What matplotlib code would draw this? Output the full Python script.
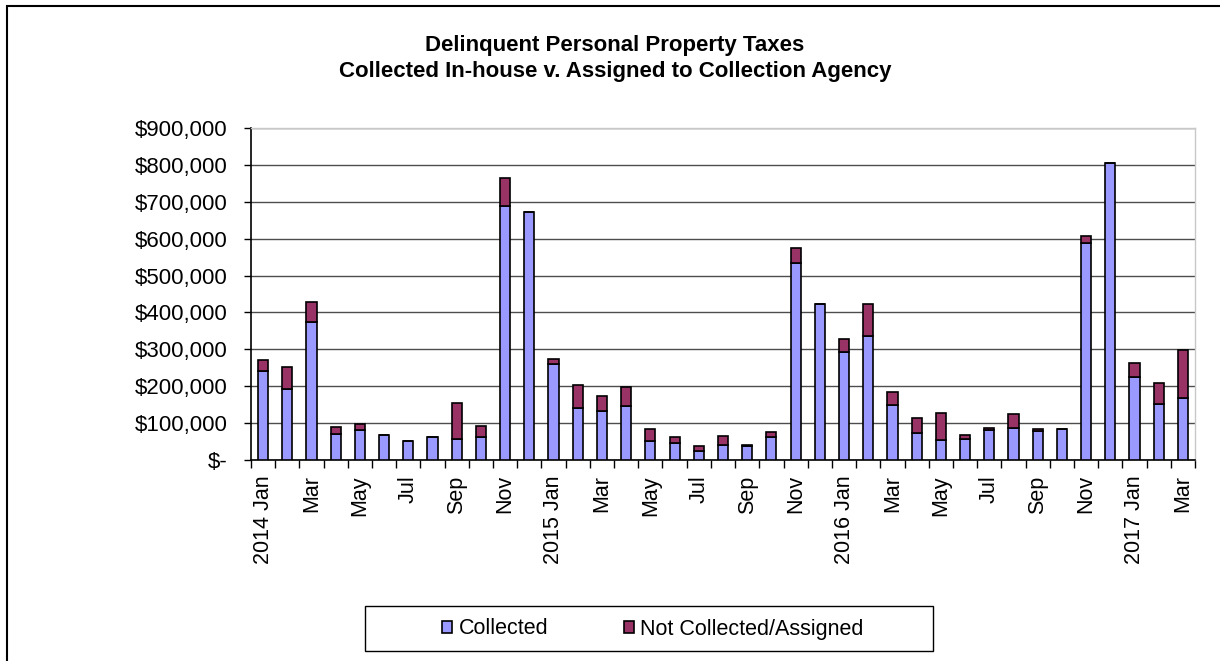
import matplotlib
matplotlib.use("Agg")
import matplotlib.pyplot as plt
from matplotlib.patches import Rectangle, Patch
import numpy as np

plt.rcParams['font.family'] = ['Liberation Sans', 'DejaVu Sans']

months = ["Jan", "Feb", "Mar", "Apr", "May", "Jun", "Jul", "Aug", "Sep", "Oct", "Nov", "Dec"]
periods = [(y, m) for y in (2014, 2015, 2016) for m in months] + [(2017, m) for m in ("Jan", "Feb", "Mar")]

collected = [240000, 193000, 373000, 70000, 81000, 68000, 52000, 61000, 57000, 63000, 689000, 671000,
             261000, 140000, 132000, 146000, 52000, 46000, 25000, 42000, 37000, 62000, 533000, 424000,
             292000, 335000, 149000, 73000, 54000, 56000, 80000, 88000, 78000, 84000, 589000, 804000,
             226000, 152000, 167000]
total = [271000, 252000, 429000, 90000, 98000, 68000, 52000, 61000, 155000, 93000, 765000, 671000,
         274000, 202000, 173000, 199000, 84000, 61000, 37000, 64000, 40000, 75000, 574000, 424000,
         329000, 424000, 184000, 115000, 128000, 68000, 88000, 126000, 84000, 84000, 606000, 804000,
         264000, 208000, 298000]
not_collected = [t - c for t, c in zip(total, collected)]

ytick_values = [0, 100000, 200000, 300000, 400000, 500000, 600000, 700000, 800000, 900000]
ytick_labels = ["$-", "$100,000", "$200,000", "$300,000", "$400,000", "$500,000",
                "$600,000", "$700,000", "$800,000", "$900,000"]

title_lines = ["Delinquent Personal Property Taxes",
               "Collected In-house v. Assigned to Collection Agency"]
c_col = "#9999FF"
c_not = "#993366"

fig = plt.figure(figsize=(12.2, 6.61), dpi=100)
ax = fig.add_axes([251/1220, 1 - 460/661, (1195-251)/1220, (460-128)/661])

x = np.arange(len(periods))
w = 0.42
ax.bar(x, collected, w, color=c_col, edgecolor="black", linewidth=1.2, zorder=3)
ax.bar(x, not_collected, w, bottom=collected, color=c_not, edgecolor="black", linewidth=1.2, zorder=3)

ax.set_xlim(-0.5, len(periods) - 0.5)
ax.set_ylim(0, 900000)
ax.set_yticks(ytick_values)
ax.set_yticklabels(ytick_labels, fontsize=16)
ax.yaxis.grid(True, color="#4d4d4d", linewidth=1.0, zorder=0)
ax.tick_params(axis='y', direction='out', length=5, width=1, color="black", pad=12)

labels_pos = []
labels_txt = []
for i, (yr, m) in enumerate(periods):
    if m in ("Jan", "Mar", "May", "Jul", "Sep", "Nov"):
        labels_pos.append(i)
        labels_txt.append(f"{yr} {m}" if m == "Jan" else m)
ax.set_xticks(labels_pos)
ax.set_xticklabels(labels_txt, rotation=90, fontsize=15.5, va="top", ha="center")
ax.set_xticks(np.arange(-0.5, len(periods), 1.0), minor=True)
ax.tick_params(axis='x', which='major', length=0, pad=11)
ax.tick_params(axis='x', which='minor', direction='out', length=6, width=1, color="black")

for s in ("top", "right"):
    ax.spines[s].set_color("#c8c8c8")
    ax.spines[s].set_linewidth(1.0)
ax.spines["left"].set_color("black")
ax.spines["bottom"].set_color("black")
ax.spines["left"].set_linewidth(1.2)
ax.spines["bottom"].set_linewidth(1.2)

fig.text(615/1220, 1 - 45/661, title_lines[0], ha="center", va="center", fontsize=16,
         fontweight="bold")
fig.text(615/1220, 1 - 71/661, title_lines[1], ha="center", va="center", fontsize=16,
         fontweight="bold")

# legend box
fig.patches.append(Rectangle((365/1220, 1 - 651/661), (933-365)/1220, (651-606)/661,
                             transform=fig.transFigure, fill=False, edgecolor="black",
                             linewidth=1.0))
handles = [Patch(facecolor=c_col, edgecolor="black", linewidth=1.2),
           Patch(facecolor=c_not, edgecolor="black", linewidth=1.2)]
fig.legend(handles, ["Collected", "Not Collected/Assigned"], loc="center",
           bbox_to_anchor=(653/1220, 1 - 629/661), ncol=2, frameon=False, fontsize=15.5,
           handlelength=0.47, handleheight=0.47, handletextpad=0.3, columnspacing=3.5)

# outer frame (top and left visible)
fig.patches.append(Rectangle((7/1220, -0.05), 1.2, 1 - 6/661 + 0.05,
                             transform=fig.transFigure, fill=False, edgecolor="black",
                             linewidth=1.5))

fig.savefig("out.png", dpi=100)
